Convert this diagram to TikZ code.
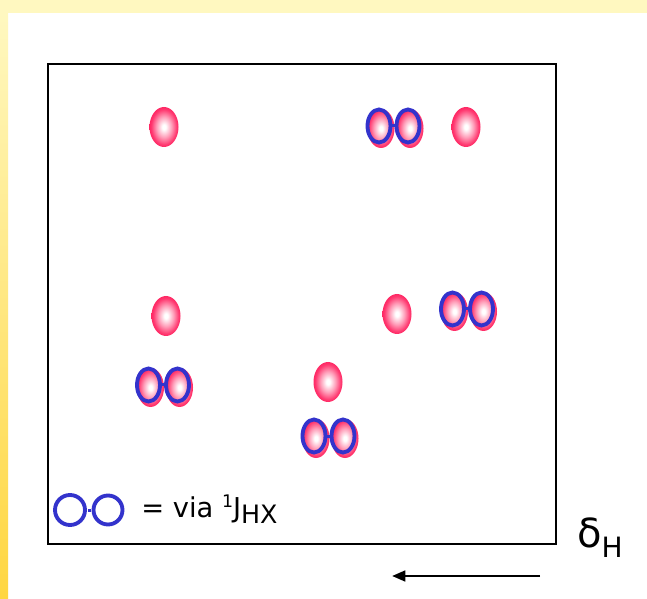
\documentclass[tikz,border=0pt]{standalone}
\usepackage{fontspec}
\setmainfont{DejaVu Sans}
\usetikzlibrary{arrows.meta}

\definecolor{spotpink}{RGB}{255,40,100}
\definecolor{ringblue}{RGB}{51,51,204}
\definecolor{bandyellow}{RGB}{255,248,192}
\definecolor{stripgold}{RGB}{255,214,64}

\pgfdeclareradialshading{spotshade}{\pgfpoint{0bp}{0bp}}{color(0bp)=(white); color(3bp)=(white); color(13bp)=(spotpink!45!white); color(22bp)=(spotpink!92!white); color(25bp)=(spotpink); color(50bp)=(spotpink)}

\tikzset{
  spot/.style={shading=spotshade},
  ring/.style={draw=ringblue, line width=2.9pt},
  frame/.style={draw=black, line width=2.1pt},
}

% one spot, and a pair of spots joined via 1J
\newcommand{\onespot}[2]{\shade[spot] (#1,#2) ellipse [x radius=14.5, y radius=20];}
\newcommand{\twospot}[2]{%
  \shade[spot] ({#1-12.5},{#2+2.5}) ellipse [x radius=13.5, y radius=19.5];
  \shade[spot] ({#1+16.5},{#2+2.5}) ellipse [x radius=13.5, y radius=19.5];
  \draw[ring] ({#1-14.5},#2) ellipse [x radius=11.5, y radius=16.5];
  \draw[ring] ({#1+14.5},#2) ellipse [x radius=11.5, y radius=16.5];
  \fill[ringblue] ({#1-1.5},{#2-1.5}) rectangle ({#1+1.5},{#2+1.5});}

\begin{document}
\begin{tikzpicture}[x=0.75pt,y=-0.75pt]
\useasboundingbox (0,0) rectangle (647,599);
% slide background
\fill[white] (0,0) rectangle (647,599);
\fill[bandyellow] (0,0) rectangle (647,13);
\shade[top color=bandyellow, bottom color=stripgold] (0,13) rectangle (8,599);

\draw[frame] (48,64) rectangle (556,544);

\onespot{164}{127}
\twospot{393.5}{126}
\onespot{466}{127}

\onespot{166}{316}
\onespot{397}{314}
\twospot{467}{309}

\twospot{163}{385}
\onespot{328}{382}
\twospot{328.5}{436}

% legend
\draw[ring] (70,510) circle [radius=15];
\draw[ring] (108,510) circle [radius=14.5];
\fill[ringblue] (87.5,508.5) rectangle (90.5,511.5);
\node[anchor=base west, inner sep=0, font=\fontsize{20.5}{24}\selectfont] (viatext) at (141,517)
  {= via \raisebox{6.8pt}{\fontsize{13}{14}\selectfont 1}J\raisebox{-4.5pt}{\fontsize{19}{22}\selectfont HX}};

% chemical shift axis
\node[anchor=base west, inner sep=0] (deltah) at (577,547)
  {{\fontsize{30}{34}\selectfont δ}\raisebox{-7.5pt}{\fontsize{21}{24}\selectfont H}};
\coordinate (arrowtail) at (540,576);
\coordinate (arrowtip) at (392,576);
\draw[line width=2pt, -{Triangle[length=10pt,width=8pt]}] (arrowtail) -- (arrowtip);
\end{tikzpicture}
\end{document}
